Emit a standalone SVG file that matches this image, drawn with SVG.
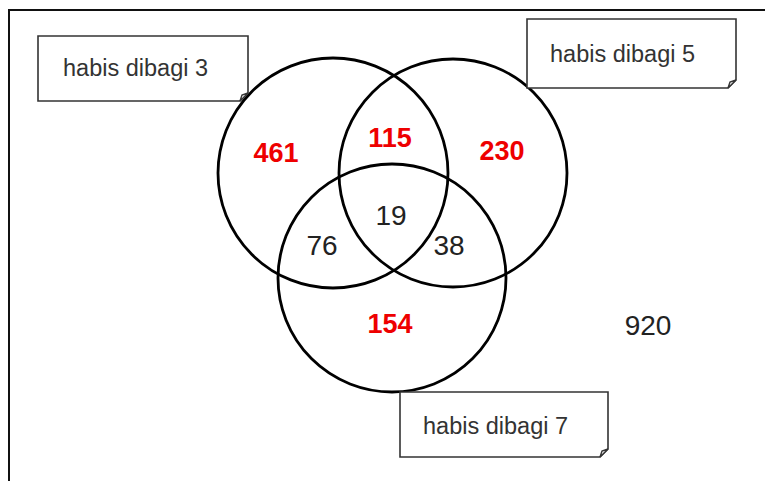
<svg xmlns="http://www.w3.org/2000/svg" width="765" height="481" viewBox="0 0 765 481">
<style>
.frame{fill:none;stroke:#111;stroke-width:2}
.circ{fill:none;stroke:#000;stroke-width:2.8}
.note{fill:#fff;stroke:#333;stroke-width:1.6;stroke-linejoin:miter}
.fold{fill:#fff;stroke:#333;stroke-width:1.4}
.nt{font-family:"Liberation Sans",Arial,sans-serif;font-size:23.5px;fill:#333}
.num{font-family:"Liberation Sans",Arial,sans-serif;font-size:28px;fill:#222;text-anchor:middle}
.red{font-family:"Liberation Sans",Arial,sans-serif;font-size:27px;font-weight:bold;fill:#ee0000;text-anchor:middle}
</style>
<rect width="765" height="481" fill="#fff"/>
<path class="frame" d="M9,481 V10 H765"/>
<g id="connectors"></g>
<g id="set3"><circle class="circ" cx="333" cy="173" r="115"/></g>
<g id="set5"><circle class="circ" cx="453" cy="173" r="114"/></g>
<g id="set7"><circle class="circ" cx="392" cy="278" r="114"/></g>
<g id="note3">
<path class="note" d="M38,36 H248 V93 L240,101 H38 Z"/>
<path class="fold" d="M240,101 L242,95 L248,93 Z"/>
<text class="nt" x="63" y="76">habis dibagi 3</text>
</g>
<g id="note5">
<path class="note" d="M527,19 H736 V80 L728,88 H527 Z"/>
<path class="fold" d="M728,88 L730,82 L736,80 Z"/>
<text class="nt" x="550" y="62">habis dibagi 5</text>
</g>
<g id="note7">
<path class="note" d="M400,392 H608 V449 L600,457 H400 Z"/>
<path class="fold" d="M600,457 L602,451 L608,449 Z"/>
<text class="nt" x="423" y="434">habis dibagi 7</text>
</g>
<g id="r461"><text class="red" x="276" y="162">461</text></g>
<g id="r115"><text class="red" x="390" y="147">115</text></g>
<g id="r230"><text class="red" x="502" y="160">230</text></g>
<g id="r19"><text class="num" x="391" y="225">19</text></g>
<g id="r76"><text class="num" x="322" y="255">76</text></g>
<g id="r38"><text class="num" x="449" y="255">38</text></g>
<g id="r154"><text class="red" x="390" y="333">154</text></g>
<g id="r920"><text class="num" x="648" y="335">920</text></g>
</svg>
